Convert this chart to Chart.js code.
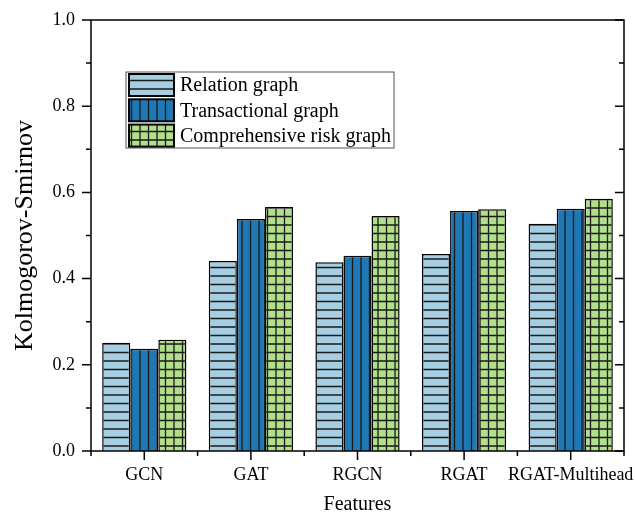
<!DOCTYPE html>
<html lang="en">
<head>
    <meta charset="UTF-8">
    <title>Kolmogorov-Smirnov by model</title>
    <script src="https://cdn.jsdelivr.net/npm/chart.js"></script>
    <style>
        body {
            margin: 0;
            background-color: #ffffff;
        }
    </style>
</head>
<body>
    <canvas id="ksChart" width="635" height="515"></canvas>

    <script>
        // Data
        const categories = ['GCN', 'GAT', 'RGCN', 'RGAT', 'RGAT-Multihead'];
        const seriesLabels = ['Relation graph', 'Transactional graph', 'Comprehensive risk graph'];
        const relationGraph = [0.251, 0.441, 0.438, 0.457, 0.527];
        const transactionalGraph = [0.237, 0.538, 0.453, 0.557, 0.562];
        const comprehensiveGraph = [0.258, 0.566, 0.545, 0.561, 0.585];
        const yMajorTicks = [0, 0.2, 0.4, 0.6, 0.8, 1.0];
        const yMinorTicks = [0.1, 0.3, 0.5, 0.7, 0.9];

        const serif = 'Liberation Serif';

        // Hatch patterns (horizontal lines, vertical lines, grid)
        function makePattern(fill, horiz, vert) {
            const c = document.createElement('canvas');
            c.width = 17;
            c.height = 17;
            const g = c.getContext('2d');
            g.fillStyle = fill;
            g.fillRect(0, 0, 17, 17);
            g.strokeStyle = '#1a1a1a';
            g.lineWidth = 1.3;
            g.beginPath();
            if (horiz) {
                g.moveTo(0, 4); g.lineTo(17, 4);
                g.moveTo(0, 12.5); g.lineTo(17, 12.5);
            }
            if (vert) {
                g.moveTo(4, 0); g.lineTo(4, 17);
                g.moveTo(12.5, 0); g.lineTo(12.5, 17);
            }
            g.stroke();
            return g.createPattern(c, 'repeat');
        }

        const relationFill = makePattern('#a6cee3', true, false);
        const transactionalFill = makePattern('#1f78b4', false, true);
        const comprehensiveFill = makePattern('#b2df8a', true, true);

        // Frame, tick marks and in-plot legend
        const framePlugin = {
            id: 'frame',
            afterDraw(chart) {
                const ctx = chart.ctx;
                const a = chart.chartArea;
                const y = chart.scales.y;
                const x = chart.scales.x;
                ctx.save();
                ctx.strokeStyle = '#000';
                ctx.lineWidth = 1.5;
                ctx.strokeRect(a.left, a.top, a.right - a.left, a.bottom - a.top);

                ctx.beginPath();
                yMajorTicks.forEach(v => {
                    const py = y.getPixelForValue(v);
                    ctx.moveTo(a.left - 9, py); ctx.lineTo(a.left, py);
                    ctx.moveTo(a.right - 9, py); ctx.lineTo(a.right, py);
                });
                yMinorTicks.forEach(v => {
                    const py = y.getPixelForValue(v);
                    ctx.moveTo(a.left - 5, py); ctx.lineTo(a.left, py);
                    ctx.moveTo(a.right - 5, py); ctx.lineTo(a.right, py);
                });
                const step = (a.right - a.left) / categories.length;
                categories.forEach((c, i) => {
                    const px = x.getPixelForValue(i);
                    ctx.moveTo(px, a.bottom); ctx.lineTo(px, a.bottom + 9);
                });
                for (let i = 0; i <= categories.length; i++) {
                    const px = a.left + i * step;
                    ctx.moveTo(px, a.bottom); ctx.lineTo(px, a.bottom + 5);
                }
                ctx.stroke();

                // legend
                const lx = a.left + 35;
                const ly = a.top + 52;
                ctx.lineWidth = 1;
                ctx.strokeStyle = '#555';
                ctx.strokeRect(lx, ly, 268, 76);
                ctx.font = '20px "' + serif + '"';
                ctx.textBaseline = 'middle';
                chart.data.datasets.forEach((ds, i) => {
                    const sy = ly + 2 + i * 25.3;
                    ctx.fillStyle = ds.backgroundColor;
                    ctx.fillRect(lx + 3, sy, 45, 22);
                    ctx.lineWidth = 2;
                    ctx.strokeStyle = '#000';
                    ctx.strokeRect(lx + 3, sy, 45, 22);
                    ctx.fillStyle = '#000';
                    ctx.fillText(ds.label, lx + 54, sy + 12);
                });
                ctx.restore();
            }
        };

        const ksConfig = {
            type: 'bar',
            data: {
                labels: categories,
                datasets: [
                    { label: seriesLabels[0], data: relationGraph, backgroundColor: relationFill },
                    { label: seriesLabels[1], data: transactionalGraph, backgroundColor: transactionalFill },
                    { label: seriesLabels[2], data: comprehensiveGraph, backgroundColor: comprehensiveFill }
                ]
            },
            options: {
                responsive: false,
                animation: false,
                layout: {
                    padding: { top: 20, right: 11, left: 0, bottom: 0 }
                },
                datasets: {
                    bar: {
                        borderColor: '#000',
                        borderWidth: 1.5,
                        barPercentage: 1,
                        categoryPercentage: 0.79
                    }
                },
                plugins: {
                    legend: { display: false },
                    tooltip: { enabled: false }
                },
                scales: {
                    x: {
                        grid: { display: false, drawTicks: false },
                        border: { display: false },
                        ticks: {
                            color: '#000',
                            padding: 13,
                            autoSkip: false,
                            maxRotation: 0,
                            font: { family: serif, size: 18 }
                        },
                        title: {
                            display: true,
                            text: 'Features',
                            color: '#000',
                            font: { family: serif, size: 20 },
                            padding: { top: 0, bottom: -2 }
                        },
                        afterFit(scale) {
                            scale.height = 64;
                            scale.paddingLeft = 0;
                            scale.paddingRight = 0;
                        }
                    },
                    y: {
                        min: 0,
                        max: 1,
                        grid: { display: false, drawTicks: false },
                        border: { display: false },
                        ticks: {
                            stepSize: 0.2,
                            color: '#000',
                            padding: 16,
                            callback: v => v.toFixed(1),
                            font: { family: serif, size: 18 }
                        },
                        title: {
                            display: true,
                            text: 'Kolmogorov-Smirnov',
                            color: '#000',
                            font: { family: serif, size: 26 },
                            padding: { top: 10, bottom: 0 }
                        },
                        afterFit(scale) {
                            scale.width = 91;
                            scale.paddingTop = 0;
                            scale.paddingBottom = 0;
                        }
                    }
                }
            },
            plugins: [framePlugin]
        };

        const ksChart = new Chart(document.getElementById('ksChart'), ksConfig);
    </script>
</body>
</html>
